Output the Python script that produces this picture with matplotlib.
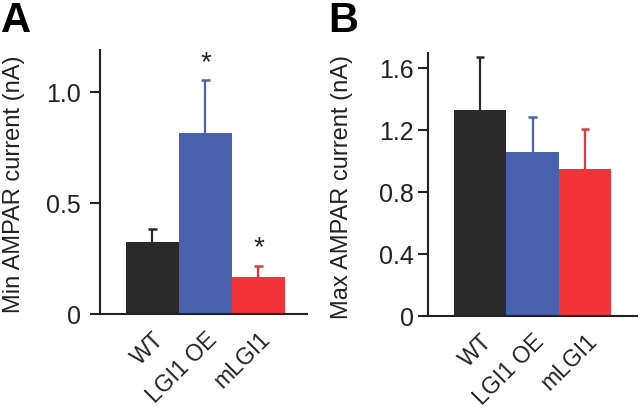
import numpy as np
import matplotlib.pyplot as plt

plt.rcParams['font.family'] = ['Liberation Sans', 'DejaVu Sans']

groups = ['WT', 'LGI1 OE', 'mLGI1']
colors = ['#2a2a2a', '#4a62ae', '#f23338']

min_mean = [0.324, 0.815, 0.167]
min_err = [0.059, 0.239, 0.049]
min_sig = [False, True, True]

max_mean = [1.329, 1.060, 0.950]
max_err = [0.348, 0.224, 0.260]

fig = plt.figure(figsize=(6.4, 4.11), dpi=100)
axA = fig.add_axes([100 / 640, 1 - 314 / 411, 207 / 640, 264 / 411])
axB = fig.add_axes([428 / 640, 1 - 316 / 411, 209 / 640, 263 / 411])


def draw(ax, means, errs, ylabel, ylim, xlim, yticks, ytlabels, pad, labx):
    x = np.arange(len(groups))
    means = np.array(means)
    errs = np.array(errs)
    ax.bar(x, means, width=1.0, color=colors, edgecolor='none', zorder=2)
    # upward-only error bars with caps, in the bar colour
    ax.vlines(x, means, means + errs, colors=colors, linewidth=1.6, zorder=1)
    ax.hlines(means + errs, x - 0.08, x + 0.08, colors=colors, linewidth=1.8,
              zorder=1)
    ax.set_xlim(*xlim)
    ax.set_ylim(*ylim)
    ax.set_yticks(yticks)
    ax.set_yticklabels(ytlabels)
    ax.set_xticks(x)
    ax.set_xticklabels(groups, rotation=45, ha='right', va='top',
                       rotation_mode='anchor')
    ax.tick_params(axis='x', length=0, pad=10, labelsize=16.5, colors='#222222')
    ax.tick_params(axis='y', length=7, width=1.5, pad=pad, labelsize=18,
                   colors='#222222')
    for s in ['top', 'right']:
        ax.spines[s].set_visible(False)
    for s in ['left', 'bottom']:
        ax.spines[s].set_linewidth(1.5)
        ax.spines[s].set_color('#222222')
    ax.set_ylabel(ylabel, fontsize=17, color='#222222', va='center')
    ax.yaxis.set_label_coords(labx, 0.49)


draw(axA, min_mean, min_err, 'Min AMPAR current (nA)', (0, 1.19),
     (-0.99, 2.915), [0, 0.5, 1.0], ['0', '0.5', '1.0'], 7, -0.415)
draw(axB, max_mean, max_err, 'Max AMPAR current (nA)', (0, 1.70),
     (-0.99, 2.99), [0, 0.4, 0.8, 1.2, 1.6], ['0', '0.4', '0.8', '1.2', '1.6'],
     3, -0.41)

for i, (m, e, s) in enumerate(zip(min_mean, min_err, min_sig)):
    if s:
        axA.text(i, m + e + 0.02, '*', ha='center', va='bottom', fontsize=20,
                 color='#222222')

fig.text(1 / 640, 1 - 1 / 411, 'A', fontsize=30, fontweight='bold',
         ha='left', va='top')
fig.text(328 / 640, 1 - 1 / 411, 'B', fontsize=30, fontweight='bold',
         ha='left', va='top')

fig.savefig('out.png', dpi=100)
